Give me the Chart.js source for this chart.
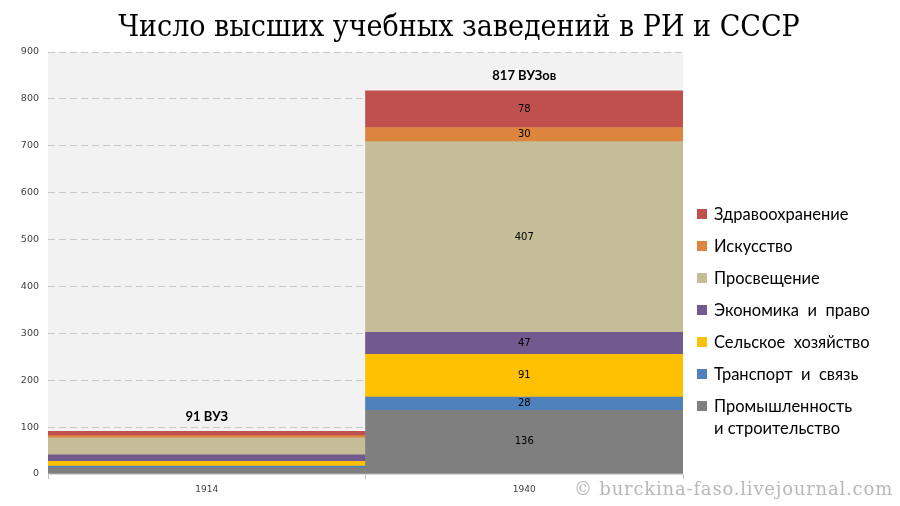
<!DOCTYPE html>
<html>
<head>
<meta charset="utf-8">
<script src="https://cdn.jsdelivr.net/npm/chart.js@4"></script>
<style>
  html, body { margin:0; padding:0; background:#fff; }
  #wrap { position:relative; width:900px; height:506px; overflow:hidden; }
  #c { position:absolute; left:0; top:0; }
  #title { position:absolute; left:0; width:918px; top:8px; text-align:center;
    font-family:"DejaVu Serif Condensed","Liberation Serif",serif; font-size:30px; color:#000; }
  #legend { position:absolute; left:697px; top:203px; font-family:Lato,"Open Sans",sans-serif; font-size:16.5px; color:#000; }
  .li { position:relative; height:32px; line-height:22px; padding-left:17px; white-space:pre; }
  .li i { position:absolute; left:0; top:6px; width:10px; height:10px; }
  #wm { position:absolute; left:574px; top:478px; font-family:"DejaVu Serif",serif; font-size:18px; letter-spacing:0.8px; color:#B8B8B8; white-space:nowrap; }
</style>
</head>
<body>
<div id="wrap">
  <canvas id="c" width="900" height="506"></canvas>
  <div id="title">Число высших учебных заведений в РИ и СССР</div>
  <div id="legend"></div>
  <div id="wm">© burckina-faso.livejournal.com</div>
</div>
<script>
// ---- data ----
const categories = ['1914', '1940'];
const totalLabels = ['91 ВУЗ', '817 ВУЗов'];
const industry = [13, 136];
const transport = [4, 28];
const agriculture = [10, 91];
const economics = [14, 47];
const education = [36, 407];
const arts = [5, 30];
const health = [9, 78];
const showSegmentLabels = [false, true];
const yMin = 0, yMax = 900, yStep = 100;

const seriesNames = ['Промышленность\nи строительство', 'Транспорт  и  связь', 'Сельское  хозяйство', 'Экономика  и  право', 'Просвещение', 'Искусство', 'Здравоохранение'];
const seriesData = [industry, transport, agriculture, economics, education, arts, health];
const seriesColors = ['#7F7F7F', '#4F81BD', '#FFC000', '#725A8F', '#C4BD97', '#DD843E', '#C0504D'];

const datasets = seriesNames.map((n, i) => ({
  label: n, data: seriesData[i], backgroundColor: seriesColors[i],
  borderWidth: 0, barPercentage: 1, categoryPercentage: 1
}));

const bgPlugin = {
  id: 'bg',
  beforeDraw(chart) {
    const a = chart.chartArea, ctx = chart.ctx;
    ctx.save(); ctx.fillStyle = '#F2F2F2';
    ctx.fillRect(a.left, a.top, a.right - a.left, a.bottom - a.top);
    ctx.restore();
  }
};
const labelPlugin = {
  id: 'lbl',
  afterDatasetsDraw(chart) {
    const ctx = chart.ctx;
    ctx.save();
    ctx.textAlign = 'center'; ctx.textBaseline = 'middle';
    chart.data.datasets.forEach((ds, di) => {
      const meta = chart.getDatasetMeta(di);
      meta.data.forEach((bar, idx) => {
        if (!showSegmentLabels[idx]) return;
        const mid = (bar.y + bar.base) / 2;
        ctx.font = '10px "DejaVu Sans", sans-serif';
        ctx.fillStyle = '#000';
        ctx.fillText(String(ds.data[idx]), bar.x, mid);
      });
    });
    const last = chart.getDatasetMeta(chart.data.datasets.length - 1);
    last.data.forEach((bar, idx) => {
      ctx.font = 'bold 13px Lato, "Open Sans", sans-serif';
      ctx.fillStyle = '#000';
      ctx.fillText(totalLabels[idx], bar.x, bar.y - 15);
    });
    ctx.restore();
  }
};

new Chart(document.getElementById('c'), {
  type: 'bar',
  data: { labels: categories, datasets },
  options: {
    responsive: false, animation: false,
    layout: { padding: { top: 52, right: 217, left: 0, bottom: 0 } },
    plugins: { legend: { display: false }, tooltip: { enabled: false } },
    scales: {
      x: {
        stacked: true,
        grid: { offset: true, drawOnChartArea: false, tickLength: 5, color: '#BFBFBF' },
        border: { display: true, color: '#D9D9D9' },
        ticks: { font: { family: '"DejaVu Sans", sans-serif', size: 9 }, color: '#404040', padding: 5 },
        afterFit(s) { s.height = 32; }
      },
      y: {
        stacked: true, min: yMin, max: yMax,
        ticks: { stepSize: yStep, font: { family: '"DejaVu Sans", sans-serif', size: 9.5 }, color: '#404040', padding: 9 },
        grid: { drawTicks: false, color: '#C8C8C8' },
        border: { display: false, dash: [7, 4] },
        afterFit(s) { s.width = 48; }
      }
    }
  },
  plugins: [bgPlugin, labelPlugin]
});

// legend (top to bottom = reversed stack order)
const lg = document.getElementById('legend');
for (let i = seriesNames.length - 1; i >= 0; i--) {
  const d = document.createElement('div');
  d.className = 'li';
  const sw = document.createElement('i');
  sw.style.background = seriesColors[i];
  d.appendChild(sw);
  d.appendChild(document.createTextNode(seriesNames[i]));
  lg.appendChild(d);
}
</script>
</body>
</html>
